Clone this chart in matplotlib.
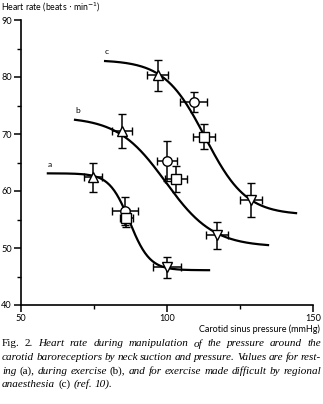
import numpy as np
from matplotlib import pyplot as plt

# Carotid sinus pressure (mmHg) and heart rate (beats/min), mean +/- error
markers = ['^', 'o', 's', 'v']

rest_x = [74.7, 85.6, 86.0, 100.0]
rest_y = [62.4, 56.5, 55.2, 46.6]
rest_xerr = [3.2, 4.4, 2.2, 4.8]
rest_yerr = [2.6, 2.5, 1.6, 1.9]

exer_x = [84.6, 100.0, 103.1, 117.1]
exer_y = [70.5, 65.2, 62.1, 52.2]
exer_xerr = [3.4, 3.4, 3.8, 3.9]
exer_yerr = [3.0, 3.5, 2.2, 2.3]

anaes_x = [96.9, 109.2, 112.7, 128.8]
anaes_y = [80.3, 75.6, 69.5, 58.4]
anaes_xerr = [3.6, 4.6, 3.9, 3.8]
anaes_yerr = [2.7, 1.8, 2.2, 3.0]

# fitted sigmoid curves: (top, bottom, midpoint, slope, x start, x end)
curve_rest = (63.1, 46.1, 87.2, 3.45, 59.2, 114.4)
curve_exer = (73.0, 50.2, 99.5, 8.2, 68.5, 134.6)
curve_anaes = (83.0, 55.8, 113.1, 7.0, 78.8, 144.2)

curve_labels = ['a', 'b', 'c']

W, H = 323, 404
fig = plt.figure(figsize=(W / 100, H / 100), dpi=100)
ax = fig.add_axes([21 / W, 1 - 305 / H, 292 / W, 285 / H])

sans = 'Lato'
lw = 1.6


def sigmoid(p):
    top, bottom, x0, s, xa, xb = p
    x = np.linspace(xa, xb, 200)
    return x, bottom + (top - bottom) / (1 + np.exp((x - x0) / s))


groups = [
    (curve_rest, rest_x, rest_y, rest_xerr, rest_yerr),
    (curve_exer, exer_x, exer_y, exer_xerr, exer_yerr),
    (curve_anaes, anaes_x, anaes_y, anaes_xerr, anaes_yerr),
]

for lab, (cp, xs, ys, xe, ye) in zip(curve_labels, groups):
    cx, cy = sigmoid(cp)
    ax.plot(cx, cy, color='black', lw=lw, zorder=2)
    ax.text(cx[0], cy[0] + 1.0, lab, fontsize=6, family=sans,
            ha='left', va='bottom')
    for m, x, y, dx, dy in zip(markers, xs, ys, xe, ye):
        ax.errorbar(x, y, xerr=dx, yerr=dy, fmt=m, ms=6.8, mfc='white',
                    mec='black', mew=1.0, ecolor='black', elinewidth=1.1,
                    capsize=2.6, capthick=1.1, zorder=3)

ax.set_xlim(50, 150)
ax.set_ylim(40, 90)
ax.set_xticks([50, 100, 150])
ax.set_xticks([75, 125], minor=True)
ax.set_yticks([40, 50, 60, 70, 80, 90])
ax.set_yticks([45, 55, 65, 75, 85], minor=True)
ax.spines['top'].set_visible(False)
ax.spines['right'].set_visible(False)
for s in ['left', 'bottom']:
    ax.spines[s].set_linewidth(1.2)
ax.tick_params(which='major', length=5, width=1.1, pad=1.5,
               labelsize=6.6, direction='out')
ax.tick_params(which='minor', length=3, width=1.0, direction='out')
for t in ax.get_xticklabels() + ax.get_yticklabels():
    t.set_family(sans)

fig.text(1 / W, 1 - 7 / H, 'Heart rate (beats $\\cdot$ min$^{-1}$)',
         fontsize=6.3, family=sans, ha='left', va='center')
fig.text(320 / W, 1 - 329 / H, 'Carotid sinus pressure (mmHg)',
         fontsize=6.5, family=sans, ha='right', va='center')

# figure caption, justified word by word
caption = [
    [('Fig. 2.', 'normal'),
     ('Heart rate during manipulation of the pressure around the', 'italic')],
    [('carotid baroreceptiors by neck suction and pressure. Values are for rest-',
      'italic')],
    [('ing', 'italic'), ('(a),', 'normal'), ('during exercise', 'italic'),
     ('(b),', 'normal'),
     ('and for exercise made difficult by regional', 'italic')],
    [('anaesthesia', 'italic'), ('(c)', 'normal'), ('(ref. 10).', 'italic')],
]
line_y = [344, 357.5, 371, 384.5]
x_left, x_right = 2, 321
fig.canvas.draw()
renderer = fig.canvas.get_renderer()

for i, (parts, y) in enumerate(zip(caption, line_y)):
    words = []
    for txt, style in parts:
        words += [(w, style) for w in txt.split()]
    items = []
    for w, style in words:
        t = fig.text(0, 1 - y / H, w, fontsize=8.0, family='Liberation Serif',
                     style=style, ha='left', va='center')
        items.append((t, t.get_window_extent(renderer).width))
    total = sum(wd for _, wd in items)
    if i < len(caption) - 1:
        gap = (x_right - x_left - total) / (len(items) - 1)
    else:
        gap = 3.0
    x = x_left
    for t, wd in items:
        t.set_x(x / W)
        x += wd + gap

fig.savefig('out.png', dpi=100)
